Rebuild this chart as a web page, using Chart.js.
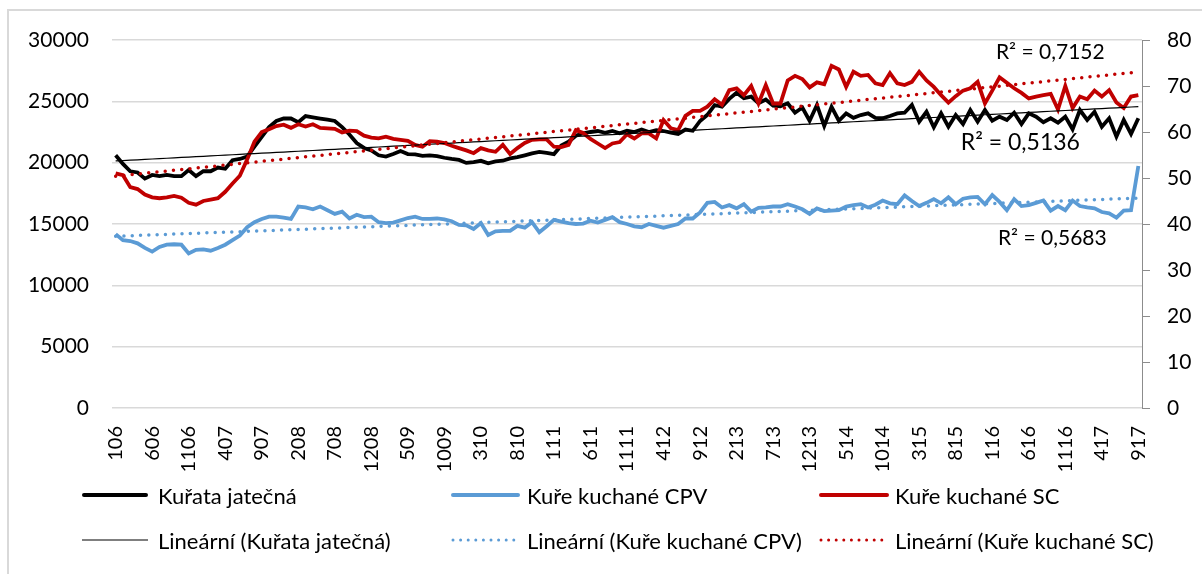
<!DOCTYPE html>
<html>
<head>
<meta charset="utf-8">
<script src="https://cdn.jsdelivr.net/npm/chart.js@4.4.1/dist/chart.umd.min.js"></script>
<style>
html,body{margin:0;padding:0;background:#fff;}
#wrap{position:relative;width:1202px;height:574px;overflow:hidden;font-family:Lato,"Liberation Sans",sans-serif;}
#frame{position:absolute;left:7px;top:9px;width:1400px;height:800px;border:2px solid #d9d9d9;box-sizing:border-box;}
#c{position:absolute;left:0;top:0;}
.lg{position:absolute;height:30px;display:flex;align-items:center;white-space:nowrap;color:#000;font-size:22px;}
.lg svg{display:block;}
</style>
</head>
<body>
<div id="wrap">
  <div id="frame"></div>
  <canvas id="c" width="1202" height="574"></canvas>
</div>
<script>
// ---- categories: month + 2-digit year, 1/2006 .. 9/2017 ----
const categories = [];
for (let y = 2006; y <= 2017; y++) {
  for (let m = 1; m <= 12; m++) {
    if (y === 2017 && m > 9) break;
    categories.push(String(m) + String(y % 100).padStart(2, '0'));
  }
}

// ---- series values ----
// Kuřata jatečná (left axis, Kč/t)
const kurataJatecna = [
  20600,19900,19300,19200,18700,19000,18900,19000,18900,18900,
  19400,18900,19300,19300,19600,19500,20200,20300,20500,21300,
  22100,22900,23400,23600,23600,23300,23800,23700,23600,23500,
  23400,22900,22300,21600,21200,21000,20600,20500,20700,20950,
  20700,20680,20550,20600,20540,20400,20300,20220,19980,20050,
  20150,19950,20100,20160,20350,20450,20600,20760,20880,20800,
  20700,21400,21700,22200,22400,22500,22580,22440,22580,22400,
  22600,22500,22700,22500,22650,22580,22450,22340,22700,22600,
  23400,23900,24700,24560,25200,25700,25250,25380,24850,25150,
  24650,24600,24840,24070,24500,23420,24700,23000,24550,23420,
  24020,23650,23880,24020,23650,23620,23800,24020,24070,24700,
  23340,24150,22880,24020,22930,23890,23150,24290,23340,24290,
  23420,23750,23480,24070,23150,24020,23750,23300,23620,23260,
  23750,22720,24290,23480,24150,22930,23620,22120,23480,22340,
  23620
];
// Kuře kuchané CPV (right axis, Kč/kg)
const kureCPV = [
  37.8,36.5,36.3,35.8,34.8,34.0,35.0,35.5,35.6,35.5,
  33.6,34.4,34.5,34.2,34.8,35.5,36.5,37.5,39.3,40.4,
  41.1,41.6,41.6,41.4,41.1,43.8,43.6,43.2,43.8,43.0,
  42.2,42.7,41.2,42.0,41.5,41.6,40.4,40.2,40.3,40.8,
  41.3,41.6,41.1,41.1,41.2,41.0,40.6,39.8,39.7,38.9,
  40.2,37.6,38.4,38.5,38.5,39.6,39.2,40.4,38.2,39.5,
  40.9,40.5,40.2,40.0,40.1,40.7,40.3,40.9,41.5,40.4,
  40.0,39.5,39.3,40.0,39.6,39.2,39.6,40.0,41.2,41.2,
  42.5,44.6,44.8,43.6,44.1,43.4,44.3,42.7,43.5,43.6,
  43.8,43.8,44.3,43.8,43.2,42.2,43.4,42.8,42.9,43.0,
  43.8,44.1,44.3,43.6,44.2,45.1,44.5,44.3,46.2,45.0,
  43.9,44.6,45.4,44.5,45.8,44.3,45.5,45.8,45.9,44.3,
  46.3,44.8,43.0,45.4,43.9,44.1,44.6,45.1,42.9,43.9,
  43.0,45.1,43.9,43.6,43.4,42.6,42.3,41.4,42.9,43.0,
  52.6
];
// Kuře kuchané SC (right axis, Kč/kg)
const kureSC = [
  51.0,50.6,48.0,47.6,46.4,45.8,45.6,45.8,46.1,45.7,
  44.6,44.2,45.0,45.3,45.6,47.0,48.8,50.5,54.0,57.9,
  60.0,60.6,61.3,61.6,60.9,61.7,61.2,61.7,60.9,60.8,
  60.7,59.9,60.3,60.2,59.2,58.8,58.6,59.0,58.5,58.3,
  58.1,57.2,56.8,58.0,57.9,57.6,57.0,56.5,56.0,55.4,
  56.5,56.0,55.7,57.2,55.2,56.5,57.6,58.3,58.4,58.4,
  56.8,56.7,57.2,60.4,59.8,58.5,57.5,56.5,57.5,57.8,
  59.5,58.6,59.7,59.7,58.6,62.6,60.8,60.4,63.5,64.6,
  64.6,65.5,67.1,65.9,69.1,69.5,68.0,70.0,66.2,70.2,
  66.2,66.2,71.2,72.2,71.5,69.7,70.8,70.4,74.4,73.6,
  69.8,73.1,72.2,72.4,70.6,70.2,72.8,70.6,70.2,70.9,
  73.1,71.2,69.8,68.0,66.4,67.8,69.0,69.5,70.9,66.2,
  69.0,71.9,70.7,69.5,68.5,67.3,67.7,68.0,68.3,64.9,
  70.0,65.2,67.7,67.1,69.0,67.7,69.1,66.4,65.2,67.7,
  68.0
];
// R² texts as printed on the chart
const r2Texts = ['R² = 0,5136', 'R² = 0,5683', 'R² = 0,7152'];

// least-squares linear trend (as Excel "Lineární" trendline)
function linearTrend(values) {
  const n = values.length;
  let sx = 0, sy = 0, sxx = 0, sxy = 0;
  values.forEach((v, i) => { sx += i; sy += v; sxx += i * i; sxy += i * v; });
  const b = (n * sxy - sx * sy) / (n * sxx - sx * sx);
  const a = (sy - b * sx) / n;
  return values.map((_, i) => a + b * i);
}

const FONT = 'Lato';
const BLACK = '#000000', BLUE = '#5B9BD5', RED = '#C00000';

const datasets = [
  { label: 'Kuřata jatečná', data: kurataJatecna, yAxisID: 'y', borderColor: BLACK, borderWidth: 3.8, order: 6, lg: 'solid' },
  { label: 'Kuře kuchané CPV', data: kureCPV, yAxisID: 'y1', borderColor: BLUE, borderWidth: 3.8, order: 5, lg: 'solid' },
  { label: 'Kuře kuchané SC', data: kureSC, yAxisID: 'y1', borderColor: RED, borderWidth: 3.8, order: 4, lg: 'solid' },
  { label: 'Lineární (Kuřata jatečná)', data: linearTrend(kurataJatecna), yAxisID: 'y', borderColor: BLACK, borderWidth: 1.2, order: 3, lg: 'thin' },
  { label: 'Lineární (Kuře kuchané CPV)', data: linearTrend(kureCPV), yAxisID: 'y1', borderColor: BLUE, borderWidth: 3.5, borderDash: [0, 8.3], borderCapStyle: 'round', order: 2, lg: 'dot' },
  { label: 'Lineární (Kuře kuchané SC)', data: linearTrend(kureSC), yAxisID: 'y1', borderColor: RED, borderWidth: 3.5, borderDash: [0, 8.3], borderCapStyle: 'round', order: 1, lg: 'dot' }
].map(d => Object.assign({ pointRadius: 0, pointHoverRadius: 0, tension: 0, fill: false }, d));

// R² labels, anchored to the end of each trendline
const r2Plugin = {
  id: 'r2',
  afterDatasetsDraw(chart) {
    const ctx = chart.ctx;
    const items = [
      { ds: 3, text: r2Texts[0], dx: -118, dy: 36, size: 23 },
      { ds: 4, text: r2Texts[1], dx: -86, dy: 40, size: 21 },
      { ds: 5, text: r2Texts[2], dx: -88, dy: -20, size: 21 }
    ];
    ctx.save();
    ctx.fillStyle = '#000';
    ctx.textAlign = 'center';
    ctx.textBaseline = 'middle';
    items.forEach(it => {
      const pts = chart.getDatasetMeta(it.ds).data;
      const p = pts[pts.length - 1];
      ctx.font = it.size + 'px ' + FONT;
      ctx.fillText(it.text, p.x + it.dx, p.y + it.dy);
    });
    ctx.restore();
  }
};

const chart = new Chart(document.getElementById('c'), {
  type: 'line',
  data: { labels: categories, datasets },
  options: {
    responsive: false,
    animation: false,
    devicePixelRatio: 1,
    layout: { padding: { top: 40, left: 0, right: 0, bottom: 0 } },
    plugins: { legend: { display: false }, tooltip: { enabled: false } },
    scales: {
      x: {
        type: 'category',
        offset: true,
        grid: { display: false, drawTicks: false },
        border: { display: false },
        ticks: {
          autoSkip: false, maxRotation: 90, minRotation: 90, padding: 18,
          color: '#000', font: { family: FONT, size: 20 },
          callback: function (v, i) { return i % 5 === 0 ? this.getLabelForValue(v) : null; }
        },
        afterFit(s) { s.height = 166; }
      },
      y: {
        position: 'left', min: 0, max: 30000,
        grid: { color: '#d9d9d9', lineWidth: 1.5, drawTicks: false },
        border: { display: false },
        ticks: { stepSize: 5000, padding: 23, color: '#000', font: { family: FONT, size: 21 },
          callback: v => String(v) },
        afterFit(s) { s.width = 112; }
      },
      y1: {
        position: 'right', min: 0, max: 80,
        grid: { drawOnChartArea: false, drawTicks: true, tickLength: 8, color: '#8c8c8c', lineWidth: 1 },
        border: { display: true, color: '#8c8c8c', width: 1 },
        ticks: { stepSize: 10, padding: 17, color: '#000', font: { family: FONT, size: 21 },
          callback: v => String(v) },
        afterFit(s) { s.width = 60; }
      }
    }
  },
  plugins: [r2Plugin]
});

// ---- legend (HTML, built from the datasets) ----
const wrap = document.getElementById('wrap');
const legendCols = [{ line: 82, w: 66, text: 158 }, { line: 451, w: 69, text: 527 }, { line: 819, w: 70, text: 895 }];
const legendRows = [495, 540];
chart.data.datasets.forEach((d, i) => {
  const col = legendCols[i % 3], rowY = legendRows[Math.floor(i / 3)];
  const line = document.createElement('div');
  line.className = 'lg';
  line.style.left = col.line + 'px';
  line.style.top = (rowY - 15) + 'px';
  let stroke;
  if (d.lg === 'solid') stroke = `<line x1="2" y1="15" x2="${col.w - 2}" y2="15" stroke="${d.borderColor}" stroke-width="4" stroke-linecap="round"/>`;
  else if (d.lg === 'thin') stroke = `<line x1="0" y1="15" x2="${col.w}" y2="15" stroke="${d.borderColor}" stroke-width="1.2"/>`;
  else stroke = `<line x1="2" y1="15" x2="${col.w - 2}" y2="15" stroke="${d.borderColor}" stroke-width="3" stroke-linecap="round" stroke-dasharray="0 7.6"/>`;
  line.innerHTML = `<svg width="${col.w}" height="30">${stroke}</svg>`;
  wrap.appendChild(line);
  const txt = document.createElement('div');
  txt.className = 'lg';
  txt.style.left = col.text + 'px';
  txt.style.top = (rowY - 15) + 'px';
  txt.textContent = d.label;
  wrap.appendChild(txt);
});
</script>
</body>
</html>
